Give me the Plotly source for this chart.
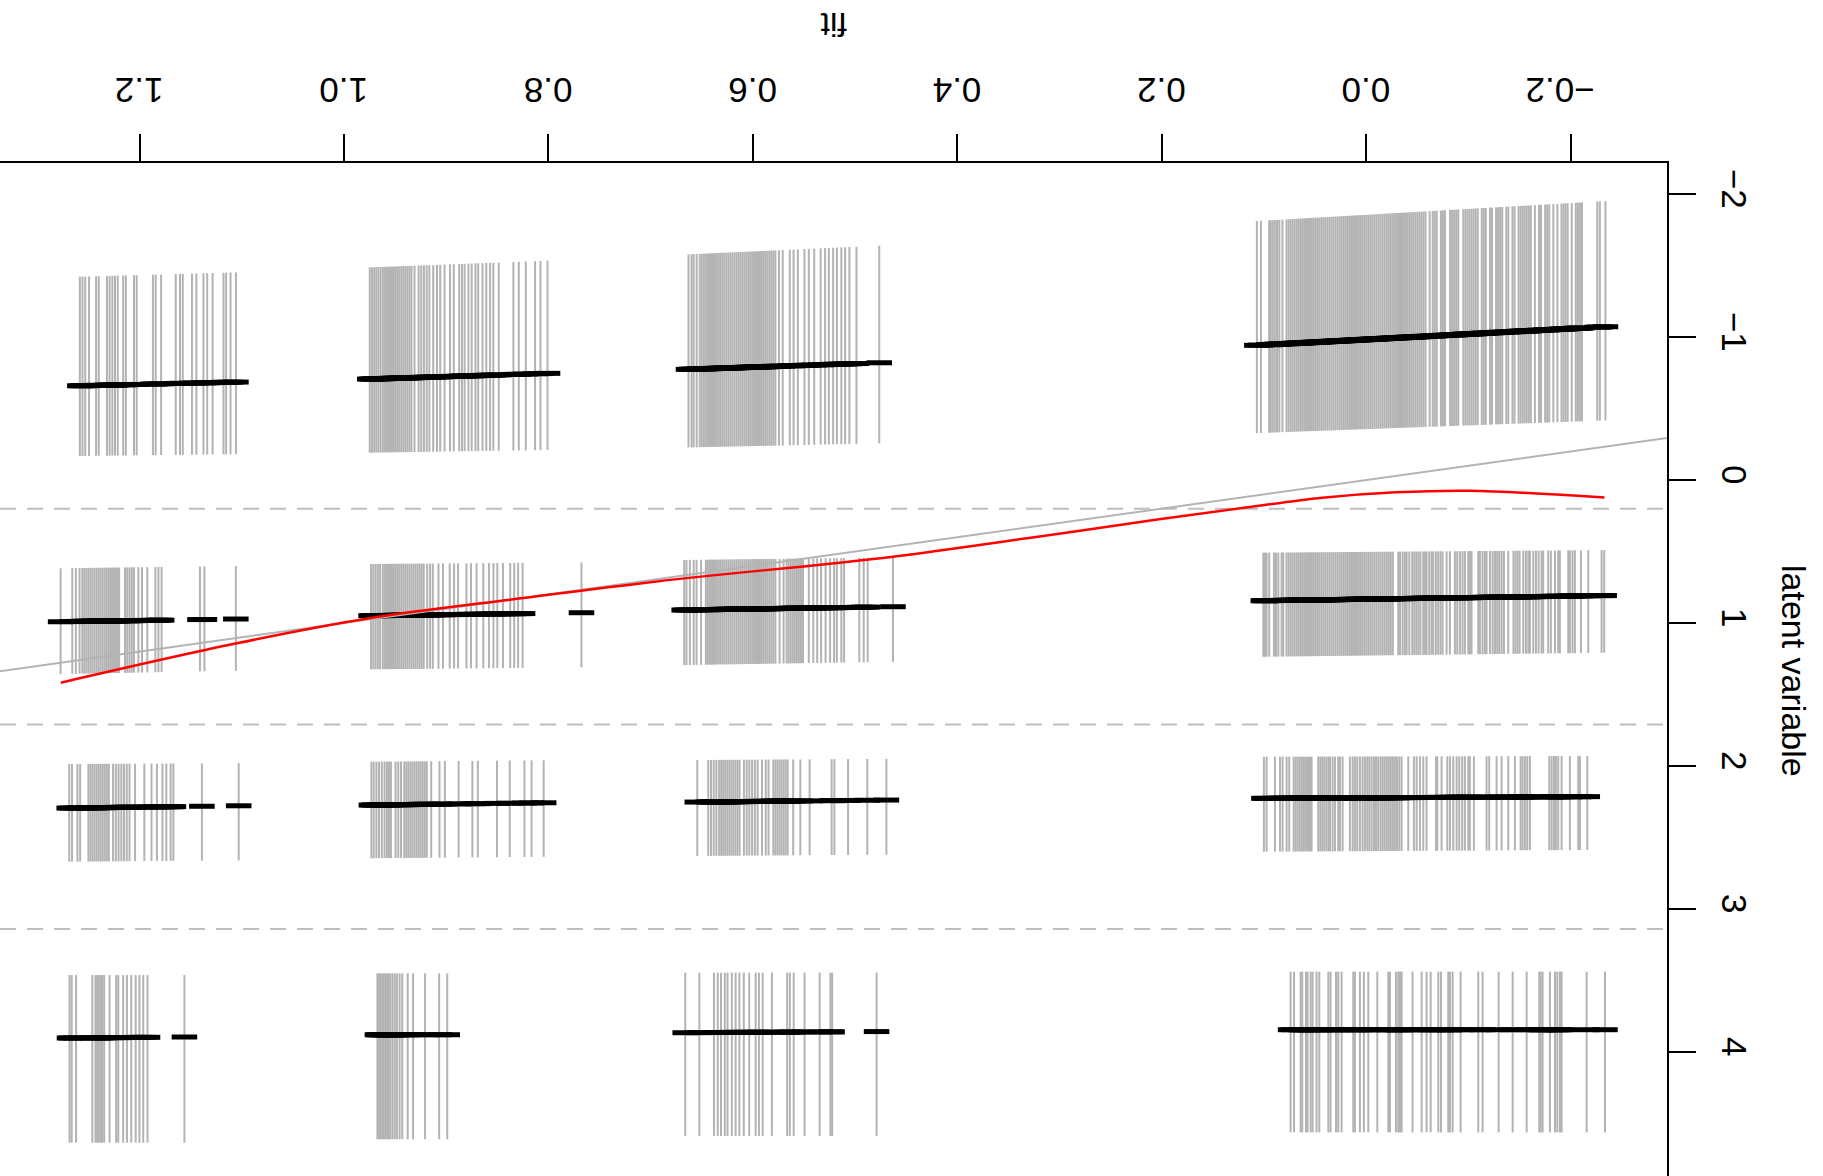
import numpy as np
import plotly.graph_objects as go

# ---------------- axes ----------------
fit_ticks = [-0.2, 0.0, 0.2, 0.4, 0.6, 0.8, 1.0, 1.2]
fit_tick_labels = ["\u22120.2", "0.0", "0.2", "0.4", "0.6", "0.8", "1.0", "1.2"]
latent_ticks = [-2, -1, 0, 1, 2, 3, 4]
latent_tick_labels = ["\u22122", "\u22121", "0", "1", "2", "3", "4"]
fit_range = [1.3365, -0.2942]
latent_range = [4.867, -2.217]

# thresholds (dashed) and reference line
thresholds = [0.2, 1.71, 3.14]
abline_intercept = 0.0
abline_slope = 1.0

# smooth (red) curve
smooth_fit = [1.277, 1.105, 0.974, 0.827, 0.694, 0.463, 0.33, 0.2026, 0.116, 0.043, -0.029, -0.101, -0.233]
smooth_latent = [1.417, 1.142, 0.965, 0.827, 0.709, 0.536, 0.405, 0.275, 0.191, 0.124, 0.086, 0.075, 0.123]

# ---------------- observations per category / group ----------------
# band 1 (category 1)
b1a_fit = [0.107, 0.103, 0.095, 0.094, 0.092, 0.090, 0.088, 0.087, 0.085, 0.082,
           0.078, 0.076, 0.074, 0.072, 0.070, 0.068, 0.066, 0.064, 0.062, 0.060, 0.058, 0.056,
           0.054, 0.052, 0.050, 0.048, 0.046, 0.044, 0.042, 0.040, 0.038, 0.036, 0.034, 0.032,
           0.030, 0.028, 0.026, 0.024, 0.022, 0.020, 0.018, 0.016, 0.014, 0.012, 0.010, 0.008,
           0.006, 0.004, 0.002, 0.000, -0.002, -0.004, -0.006, -0.008, -0.010, -0.012, -0.014,
           -0.016, -0.018, -0.020, -0.022, -0.024, -0.026, -0.028, -0.030, -0.032, -0.034, -0.036,
           -0.038, -0.040, -0.042, -0.044, -0.046, -0.048, -0.050, -0.052, -0.054, -0.056, -0.058,
           -0.062, -0.065, -0.067, -0.069, -0.073, -0.075, -0.077, -0.082, -0.084, -0.086, -0.088,
           -0.090, -0.095, -0.097, -0.099, -0.101, -0.103, -0.105, -0.107, -0.109, -0.113, -0.115,
           -0.117, -0.121, -0.123, -0.127, -0.129, -0.131, -0.133, -0.137, -0.139, -0.143, -0.145,
           -0.149, -0.151, -0.153, -0.155, -0.157, -0.159, -0.161, -0.165, -0.169, -0.171, -0.175,
           -0.177, -0.179, -0.183, -0.187, -0.191, -0.193, -0.195, -0.197, -0.201, -0.205, -0.207,
           -0.209, -0.211, -0.226, -0.2285, -0.234]
b1a_top, b1a_mid, b1a_bot = [-1.811, -1.951], [-0.942, -1.072], [-0.328, -0.417]

b1b_fit = [0.663, 0.660, 0.658, 0.655, 0.652, 0.650, 0.648, 0.646, 0.644, 0.642, 0.640, 0.638,
           0.636, 0.634, 0.632, 0.630, 0.628, 0.626, 0.624, 0.622, 0.620, 0.618, 0.616, 0.614,
           0.612, 0.610, 0.608, 0.606, 0.604, 0.602, 0.600, 0.598, 0.596, 0.594, 0.592, 0.590,
           0.588, 0.586, 0.584, 0.582, 0.580, 0.578, 0.5745, 0.5708, 0.5639, 0.5602, 0.556,
           0.5496, 0.5453, 0.540, 0.5337, 0.5294, 0.5257, 0.5215, 0.5178, 0.5135, 0.5098,
           0.5056, 0.4987, 0.4764]
b1b_top, b1b_mid, b1b_bot = [-1.578, -1.639], [-0.774, -0.820], [-0.228, -0.256]

b1c_fit = [0.9748, 0.9727, 0.9705, 0.9684, 0.9663, 0.9642, 0.962, 0.960, 0.958, 0.956, 0.954,
           0.952, 0.950, 0.948, 0.946, 0.944, 0.942, 0.940, 0.938, 0.936, 0.934, 0.931, 0.927,
           0.9244, 0.9218, 0.9191, 0.9165, 0.9127, 0.909, 0.9059, 0.9016, 0.8963, 0.8926,
           0.8873, 0.8846, 0.882, 0.8783, 0.8751, 0.8714, 0.8687, 0.8645, 0.8608, 0.8571,
           0.8539, 0.8486, 0.8343, 0.829, 0.8221, 0.8131, 0.8078, 0.8009]
b1c_top, b1c_mid, b1c_bot = [-1.487, -1.534], [-0.706, -0.746], [-0.191, -0.210]

b1d_fit = [1.2584, 1.2558, 1.2531, 1.2494, 1.2425, 1.2399, 1.2319, 1.2293, 1.2266, 1.2240, 1.2213,
           1.2160, 1.2134, 1.2054, 1.2028, 1.1869, 1.1842, 1.1789, 1.1646, 1.1604, 1.1577, 1.1487,
           1.1444, 1.1375, 1.1338, 1.1285, 1.1179, 1.1153, 1.1110, 1.1057]
b1d_top, b1d_mid, b1d_bot = [-1.422, -1.452], [-0.659, -0.685], [-0.168, -0.180]

# band 2 (category 2)
b2a_fit = [0.1007, 0.0991, 0.0975, 0.0949, 0.0903, 0.0883, 0.0860, 0.0828, 0.0812,
           0.078, 0.076, 0.074, 0.072, 0.070, 0.068, 0.066, 0.064, 0.062, 0.060, 0.058, 0.056,
           0.054, 0.052, 0.050, 0.048, 0.046, 0.044, 0.042, 0.040, 0.038, 0.036, 0.034, 0.032,
           0.030, 0.028, 0.026, 0.024, 0.022, 0.020, 0.018, 0.016, 0.014, 0.012, 0.010, 0.008,
           0.006, 0.004, 0.002, 0.000, -0.002, -0.004, -0.006, -0.008, -0.010, -0.012, -0.014,
           -0.016, -0.018, -0.020, -0.022, -0.024, -0.026, -0.0313, -0.0330, -0.0356,
           -0.0378, -0.0395, -0.0421, -0.045, -0.047, -0.049, -0.051, -0.053, -0.0558, -0.0574,
           -0.0590, -0.0616, -0.0639, -0.0655, -0.0681, -0.0704, -0.0727, -0.0747, -0.0786,
           -0.0818, -0.0867, -0.0890, -0.0916, -0.0942, -0.0965, -0.0998, -0.1014, -0.1030,
           -0.1096, -0.1112, -0.1138, -0.1161, -0.1177, -0.1210, -0.1236, -0.1259, -0.1281,
           -0.1301, -0.1324, -0.1347, -0.1389, -0.144, -0.146, -0.148, -0.150, -0.1536, -0.1562,
           -0.1585, -0.1601, -0.1634, -0.1660, -0.1686, -0.1715, -0.1731, -0.1780, -0.1806,
           -0.1846, -0.1878, -0.1894, -0.1976, -0.1992, -0.2018, -0.2041, -0.2100, -0.2172,
           -0.2302, -0.2328]
b2a_top, b2a_mid, b2a_bot = [0.508, 0.490], [0.844, 0.808], [1.236, 1.208]

b2b_fit = [0.6672, 0.665, 0.6617, 0.6579, 0.6551, 0.6507,
           0.646, 0.644, 0.642, 0.640, 0.638, 0.636, 0.634, 0.632, 0.630, 0.628, 0.626, 0.624,
           0.622, 0.620, 0.618, 0.616, 0.614, 0.612, 0.610, 0.608, 0.606, 0.604, 0.602, 0.600,
           0.598, 0.596, 0.594, 0.592, 0.590, 0.588, 0.586, 0.584, 0.582, 0.580, 0.578,
           0.5739, 0.5700, 0.567, 0.565, 0.563, 0.561, 0.559, 0.557, 0.555, 0.553, 0.551,
           0.5453, 0.5409, 0.5371, 0.5333, 0.5289, 0.5245, 0.5206, 0.5179, 0.5135, 0.5108,
           0.4959, 0.4916, 0.4877, 0.4630]
b2b_top, b2b_mid, b2b_bot = [0.559, 0.541], [0.909, 0.886], [1.294, 1.271]

b2c_fit = [0.9735, 0.9713, 0.9691, 0.9669, 0.9647, 0.962, 0.960, 0.958, 0.956, 0.954, 0.952,
           0.950, 0.948, 0.946, 0.944, 0.942, 0.940, 0.938, 0.936, 0.934, 0.932, 0.930, 0.928,
           0.926, 0.924, 0.922, 0.9186, 0.9158, 0.9131, 0.9076, 0.9032, 0.8966, 0.8923, 0.8884,
           0.8802, 0.8758, 0.8703, 0.8637, 0.8582, 0.8538, 0.8500, 0.8445, 0.8374, 0.8335,
           0.8297, 0.8253, 0.7677]
b2c_top, b2c_mid, b2c_bot = [0.587, 0.576], [0.949, 0.928], [1.324, 1.310]

b2d_fit = [1.2772, 1.2658, 1.2623, 1.2587, 1.256, 1.254, 1.252, 1.250, 1.248, 1.246, 1.244,
           1.242, 1.240, 1.238, 1.236, 1.234, 1.232, 1.230, 1.228, 1.226, 1.224, 1.222, 1.220,
           1.2142, 1.2120, 1.2098, 1.2076, 1.2054, 1.2011, 1.1976, 1.1924, 1.1845, 1.1815,
           1.1784, 1.1409, 1.1365, 1.1058]
b2d_top, b2d_mid, b2d_bot = [0.617, 0.601], [0.991, 0.972], [1.357, 1.334]

# band 3 (category 3)
b3a_fit = [0.1001, 0.0975, 0.0893, 0.0844, 0.0818, 0.0779, 0.0753, 0.071, 0.069, 0.067, 0.065,
           0.063, 0.061, 0.059, 0.057, 0.055, 0.0535, 0.047, 0.045, 0.043, 0.041, 0.039, 0.037,
           0.0355, 0.0329, 0.0306, 0.0274, 0.0257, 0.0231, 0.0160, 0.0133, 0.0111, 0.0088,
           0.0062, 0.0036, 0.0013, -0.0010, -0.0030, -0.0052, -0.0075, -0.0095, -0.0117,
           -0.0140, -0.0160, -0.018, -0.020, -0.022, -0.024, -0.026, -0.028, -0.030, -0.0323,
           -0.0346, -0.0411, -0.0466, -0.0493, -0.0525, -0.0558, -0.0590, -0.0682, -0.0695,
           -0.0737, -0.0793, -0.0819, -0.0851, -0.0884, -0.0910, -0.0939, -0.0965, -0.0998,
           -0.1014, -0.1053, -0.1177, -0.1203, -0.1275, -0.1324, -0.1389, -0.1454, -0.1510,
           -0.1529, -0.1552, -0.1575, -0.1601, -0.1790, -0.1813, -0.1836, -0.1855, -0.1878,
           -0.1911, -0.1992, -0.2074, -0.2090, -0.2162]
b3a_top, b3a_mid, b3a_bot = [1.935, 1.930], [2.226, 2.214], [2.599, 2.587]

b3b_fit = [0.6544, 0.6437, 0.6410, 0.6383, 0.6357, 0.633, 0.631, 0.629, 0.627, 0.625, 0.623,
           0.621, 0.619, 0.617, 0.615, 0.613, 0.6088, 0.6061, 0.6035, 0.6008, 0.5981, 0.5954,
           0.5911, 0.5874, 0.5847, 0.580, 0.578, 0.576, 0.574, 0.572, 0.570, 0.568, 0.566,
           0.5606, 0.5536, 0.5445, 0.5230, 0.5203, 0.5069, 0.4881, 0.4694]
b3b_top, b3b_mid, b3b_bot = [1.958, 1.950], [2.252, 2.238], [2.629, 2.620]

b3c_fit = [0.9732, 0.9710, 0.9683, 0.9657, 0.9630, 0.9603, 0.958, 0.956, 0.9541, 0.9496,
           0.9469, 0.9442, 0.941, 0.939, 0.937, 0.935, 0.933, 0.931, 0.929, 0.927, 0.925, 0.923,
           0.921, 0.919, 0.9147, 0.9066, 0.9013, 0.8879, 0.8744, 0.8691, 0.8503, 0.8379,
           0.8235, 0.8165, 0.8047]
b3c_top, b3c_mid, b3c_bot = [1.970, 1.960], [2.273, 2.257], [2.645, 2.635]

b3d_fit = [1.2688, 1.2661, 1.2608, 1.2581, 1.250, 1.248, 1.246, 1.244, 1.242, 1.240, 1.238,
           1.236, 1.234, 1.232, 1.230, 1.2259, 1.2232, 1.2205, 1.2178, 1.2152, 1.2125, 1.2098,
           1.2044, 1.1953, 1.1883, 1.1830, 1.1776, 1.1738, 1.1696, 1.1669, 1.1390, 1.1030]
b3d_top, b3d_mid, b3d_bot = [1.986, 1.980], [2.294, 2.278], [2.669, 2.660]

# band 4 (category 4)
b4a_fit = [0.0740, 0.0707, 0.0642, 0.0626, 0.0590, 0.0574, 0.0544, 0.0525, 0.0486, 0.0459,
           0.0371, 0.0349, 0.0296, 0.0274, 0.0241, 0.0127, 0.0111, 0.0062, 0.0023, -0.0020,
           -0.0108, -0.0216, -0.0232, -0.0290, -0.0313, -0.0330, -0.0346, -0.0453, -0.0542,
           -0.0590, -0.0630, -0.0705, -0.0731, -0.0802, -0.0819, -0.0845, -0.0923, -0.1096,
           -0.1138, -0.1295, -0.1432, -0.1569, -0.1693, -0.1706, -0.1725, -0.1797, -0.1846,
           -0.1869, -0.1895, -0.1911, -0.2156, -0.2335]
b4a_top, b4a_mid, b4a_bot = [3.438, 3.438], [3.844, 3.844], [4.562, 4.562]

b4b_fit = [0.6662, 0.6524, 0.6381, 0.6344, 0.6312, 0.6275, 0.6248, 0.6206, 0.6169, 0.6132,
           0.6089, 0.6036, 0.5973, 0.5941, 0.5904, 0.5814, 0.5665, 0.5639, 0.5601, 0.5495,
           0.5347, 0.5241, 0.5225, 0.4790]
b4b_top, b4b_mid, b4b_bot = [3.445, 3.445], [3.865, 3.857], [4.587, 4.587]

b4c_fit = [0.9673, 0.9657, 0.9642, 0.9626, 0.9610, 0.9594, 0.9578, 0.9562, 0.9546, 0.9525,
           0.9504, 0.9483, 0.9456, 0.9430, 0.9377, 0.9324, 0.9207, 0.9069, 0.8990]
b4c_top, b4c_mid, b4c_bot = [3.450, 3.450], [3.879, 3.879], [4.610, 4.610]

b4d_fit = [1.2685, 1.2664, 1.2621, 1.2462, 1.2431, 1.2415, 1.2399, 1.2383, 1.2367, 1.2346,
           1.2293, 1.2229, 1.2208, 1.2160, 1.2123, 1.2081, 1.2038, 1.2001, 1.1964, 1.1922, 1.1561]
b4d_top, b4d_mid, b4d_bot = [3.462, 3.462], [3.902, 3.895], [4.634, 4.634]

black_half_width = 0.0125  # half width of the black mean mark, in fit units

groups = [
    (b1a_fit, b1a_top, b1a_mid, b1a_bot), (b1b_fit, b1b_top, b1b_mid, b1b_bot),
    (b1c_fit, b1c_top, b1c_mid, b1c_bot), (b1d_fit, b1d_top, b1d_mid, b1d_bot),
    (b2a_fit, b2a_top, b2a_mid, b2a_bot), (b2b_fit, b2b_top, b2b_mid, b2b_bot),
    (b2c_fit, b2c_top, b2c_mid, b2c_bot), (b2d_fit, b2d_top, b2d_mid, b2d_bot),
    (b3a_fit, b3a_top, b3a_mid, b3a_bot), (b3b_fit, b3b_top, b3b_mid, b3b_bot),
    (b3c_fit, b3c_top, b3c_mid, b3c_bot), (b3d_fit, b3d_top, b3d_mid, b3d_bot),
    (b4a_fit, b4a_top, b4a_mid, b4a_bot), (b4b_fit, b4b_top, b4b_mid, b4b_bot),
    (b4c_fit, b4c_top, b4c_mid, b4c_bot), (b4d_fit, b4d_top, b4d_mid, b4d_bot),
]

gx, gy, bx, by = [], [], [], []
for fits, top, mid, bot in groups:
    f = np.asarray(fits, dtype=float)
    fmax, fmin = f.max(), f.min()
    t = (fmax - f) / (fmax - fmin)
    tops = top[0] + t * (top[1] - top[0])
    mids = mid[0] + t * (mid[1] - mid[0])
    bots = bot[0] + t * (bot[1] - bot[0])
    for fi, ti, mi, bi in zip(f, tops, mids, bots):
        gx += [fi, fi, None]
        gy += [ti, bi, None]
        bx += [fi + black_half_width, fi - black_half_width, None]
        by += [mi, mi, None]

fig = go.Figure()
fig.add_trace(go.Scatter(x=gx, y=gy, mode="lines", line=dict(color="#B3B3B3", width=2),
                         hoverinfo="skip", showlegend=False))
for th in thresholds:
    fig.add_trace(go.Scatter(x=fit_range, y=[th, th], mode="lines",
                             line=dict(color="#BEBEBE", width=2, dash="16px,11px"),
                             hoverinfo="skip", showlegend=False))
fig.add_trace(go.Scatter(x=bx, y=by, mode="lines", line=dict(color="black", width=5),
                         hoverinfo="skip", showlegend=False))
fig.add_trace(go.Scatter(x=fit_range,
                         y=[abline_intercept + abline_slope * v for v in fit_range],
                         mode="lines", line=dict(color="#B3B3B3", width=2),
                         hoverinfo="skip", showlegend=False))
fig.add_trace(go.Scatter(x=smooth_fit, y=smooth_latent, mode="lines",
                         line=dict(color="red", width=2.5, shape="spline", smoothing=1.0),
                         hoverinfo="skip", showlegend=False))

font = "Liberation Sans, Arial, Helvetica, sans-serif"
fig.update_layout(
    width=1823, height=1176,
    margin=dict(l=0, r=156, t=163, b=0, pad=0),
    paper_bgcolor="white", plot_bgcolor="white",
    font=dict(family=font, size=34, color="black"),
    xaxis=dict(range=fit_range, side="top", showgrid=False, zeroline=False,
               showline=True, linecolor="black", linewidth=2,
               ticks="outside", ticklen=27, tickwidth=1.5, tickcolor="black",
               tickvals=fit_ticks, ticktext=fit_tick_labels, tickangle=180,
               ticklabelshift=-24, ticklabelstandoff=7,
               tickfont=dict(family=font, size=35, color="black")),
    yaxis=dict(range=latent_range, side="right", showgrid=False, zeroline=False,
               showline=True, linecolor="black", linewidth=2,
               ticks="outside", ticklen=27, tickwidth=1.5, tickcolor="black",
               tickvals=latent_ticks, ticktext=latent_tick_labels, tickangle=90,
               ticklabelstandoff=12,
               tickfont=dict(family=font, size=35, color="black")),
    annotations=[
        dict(text="fit", xref="paper", yref="paper", x=0.5, y=1.1356, showarrow=False,
             textangle=180, font=dict(family=font, size=34, color="black"),
             xanchor="center", yanchor="middle"),
        dict(text="latent variable", xref="paper", yref="paper", x=1.0762, y=0.4985,
             showarrow=False, textangle=90, font=dict(family=font, size=34, color="black"),
             xanchor="center", yanchor="middle"),
    ],
)

fig.write_html("out.html", config={"displayModeBar": False},
               post_script="document.body.style.margin='0';document.body.style.overflow='hidden';")
